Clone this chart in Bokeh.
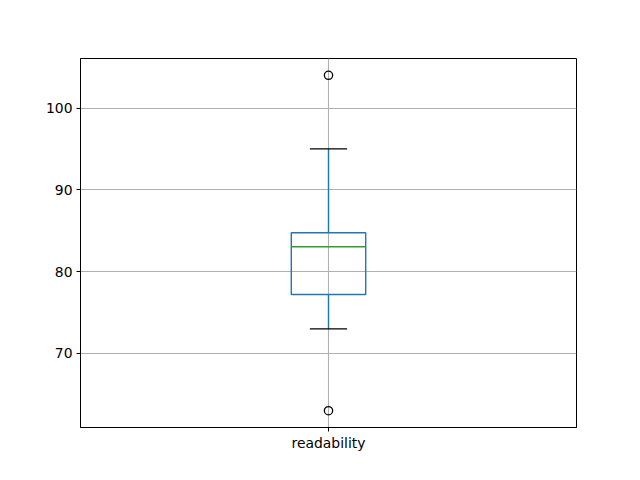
from bokeh.plotting import figure
from bokeh.models import Range1d, FixedTicker
from bokeh.embed import file_html
from bokeh.resources import INLINE

# data
categories = ["readability"]
q1 = [77.2]
median = [83.05]
q3 = [84.76]
whisker_low = [73.0]
whisker_high = [95.0]
outliers_y = [[104.0, 63.0]]
y_ticks = [70, 80, 90, 100]

positions = [i + 1 for i in range(len(categories))]
box_w = 0.15
cap_w = 0.075

p = figure(width=632, height=472, output_backend="svg", toolbar_location=None,
           x_range=Range1d(0.5, 1.5), y_range=Range1d(60.95, 106.05),
           min_border_left=80, min_border_right=56, min_border_top=58, min_border_bottom=45)

p.outline_line_color = "black"
p.outline_line_width = 1
p.background_fill_color = "white"
p.border_fill_color = "white"

for ax in (p.xaxis, p.yaxis):
    ax.axis_line_color = "black"
    ax.major_tick_line_color = "black"
    ax.major_tick_out = 4
    ax.major_tick_in = 0
    ax.minor_tick_line_color = None
    ax.major_label_text_font = "DejaVu Sans"
    ax.major_label_text_font_size = "13.9px"
    ax.major_label_text_color = "black"

p.xaxis.major_label_standoff = 3
p.yaxis.major_label_standoff = 4
p.xaxis.ticker = FixedTicker(ticks=positions)
p.xaxis.major_label_overrides = {pos: c for pos, c in zip(positions, categories)}
p.yaxis.ticker = FixedTicker(ticks=y_ticks)

p.grid.grid_line_color = "#b0b0b0"
p.grid.grid_line_width = 1.1
p.xgrid.ticker = FixedTicker(ticks=positions)
p.ygrid.ticker = FixedTicker(ticks=y_ticks)

for i, x in enumerate(positions):
    # whiskers
    p.segment(x0=[x, x], y0=[q3[i], q1[i]], x1=[x, x], y1=[whisker_high[i], whisker_low[i]],
              line_color="#1f77b4", line_width=1.4)
    # caps
    p.segment(x0=[x - cap_w / 2] * 2, y0=[whisker_high[i], whisker_low[i]],
              x1=[x + cap_w / 2] * 2, y1=[whisker_high[i], whisker_low[i]],
              line_color="black", line_width=1.4)
    # box
    p.quad(left=[x - box_w / 2], right=[x + box_w / 2], bottom=[q1[i]], top=[q3[i]],
           fill_color=None, line_color="#1f77b4", line_width=1.4)
    # median
    p.segment(x0=[x - box_w / 2], y0=[median[i]], x1=[x + box_w / 2], y1=[median[i]],
              line_color="#2ca02c", line_width=1.4)
    # fliers
    p.scatter(x=[x] * len(outliers_y[i]), y=outliers_y[i], size=8.3, marker="circle",
              fill_color=None, line_color="black", line_width=1.3)

open("out.html", "w").write(file_html(p, INLINE))
